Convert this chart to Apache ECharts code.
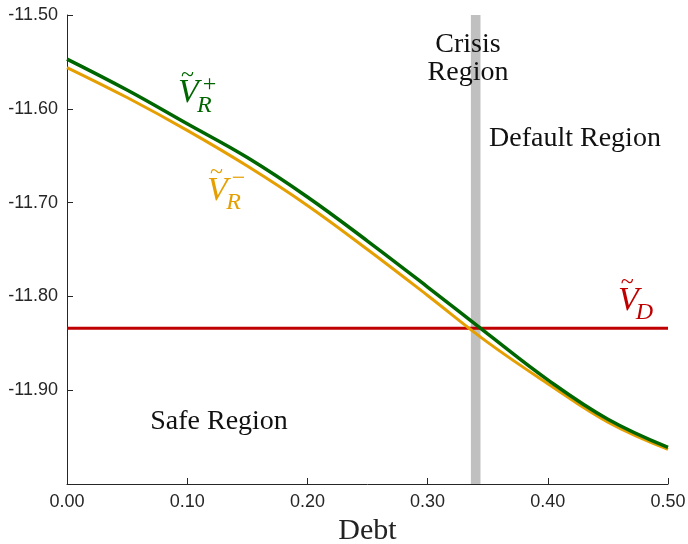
<!DOCTYPE html>
<html>
<head>
<meta charset="utf-8">
<script src="https://cdn.jsdelivr.net/npm/echarts@6/dist/echarts.min.js"></script>
<style>
html, body { margin: 0; padding: 0; background: #fff; }
#chart { width: 688px; height: 544px; }
</style>
</head>
<body>
<div id="chart"></div>
<script>
// debt grid and the two value functions
var debt = [0, 0.05, 0.10, 0.15, 0.20, 0.25, 0.30, 0.35, 0.40, 0.45, 0.50]
var vPlus = [-11.547, -11.580, -11.616, -11.652, -11.694, -11.741, -11.790, -11.840, -11.889, -11.931, -11.961]
var vMinus = [-11.556, -11.588, -11.623, -11.661, -11.703, -11.750, -11.799, -11.849, -11.893, -11.934, -11.963]
var vDefault = -11.834
var crisisBand = [0.336, 0.344]
var yTicks = [-11.5, -11.6, -11.7, -11.8, -11.9]

var serif = '"Liberation Serif", "Times New Roman", serif'
var sans = '"Liberation Sans", Arial, sans-serif'
var axisColor = '#262626'

var myChart = echarts.init(document.getElementById('chart'))

function pairs(xs, ys) {
	return xs.map(function (x, i) { return [x, ys[i]] })
}

var option = {
	animation: false,
	grid: { left: 67, right: 20, top: 15, bottom: 60, outerBoundsMode: 'none', containLabel: false },
	xAxis: {
		type: 'value',
		min: 0,
		max: 0.5,
		interval: 0.1,
		name: 'Debt',
		nameLocation: 'middle',
		nameGap: 30,
		nameTextStyle: { fontFamily: serif, fontSize: 30, color: '#222' },
		axisLine: { lineStyle: { color: axisColor, width: 1 } },
		axisTick: { inside: true, length: 6, lineStyle: { color: axisColor } },
		axisLabel: {
			margin: 9,
			fontFamily: sans,
			fontSize: 18,
			color: axisColor,
			formatter: function (v) { return v.toFixed(2) }
		},
		splitLine: { show: false }
	},
	yAxis: {
		type: 'value',
		min: -12.0,
		max: -11.5,
		interval: 0.1,
		axisLine: { show: true, lineStyle: { color: axisColor, width: 1 } },
		axisTick: { show: true, inside: true, length: 6, lineStyle: { color: axisColor } },
		axisLabel: {
			margin: 9,
			fontFamily: sans,
			fontSize: 18,
			color: axisColor,
			formatter: function (v) {
				return yTicks.some(function (t) { return Math.abs(t - v) < 1e-6 }) ? v.toFixed(2) : ''
			}
		},
		splitLine: { show: false }
	},
	series: [{
		name: 'V_D',
		type: 'line',
		z: 2,
		showSymbol: false,
		data: [[0, vDefault], [0.5, vDefault]],
		lineStyle: { color: '#c00000', width: 3 },
		markArea: {
			silent: true,
			itemStyle: { color: '#c0c0c0' },
			data: [[{ xAxis: crisisBand[0] }, { xAxis: crisisBand[1] }]]
		}
	}, {
		name: 'V_R-',
		type: 'line',
		z: 3,
		smooth: 0.4,
		showSymbol: false,
		data: pairs(debt, vMinus),
		lineStyle: { color: '#e69f00', width: 3 }
	}, {
		name: 'V_R+',
		type: 'line',
		z: 4,
		smooth: 0.4,
		showSymbol: false,
		data: pairs(debt, vPlus),
		lineStyle: { color: '#006600', width: 3.5 }
	}]
}
myChart.setOption(option)

// annotations anchored in data space
function txt(p, dx, dy, text, size, color, italic) {
	return {
		type: 'text',
		x: p[0] + dx,
		y: p[1] + dy,
		z: 100,
		silent: true,
		style: {
			text: text,
			fill: color,
			fontFamily: serif,
			fontSize: size,
			fontStyle: italic ? 'italic' : 'normal',
			align: 'center',
			verticalAlign: 'middle',
			lineHeight: 28
		}
	}
}

function mathLabel(at, sub, sup, color) {
	var p = myChart.convertToPixel('grid', at)
	var out = [
		txt(p, -1, -18, '~', 24, color, false),
		txt(p, 0, 0, 'V', 34, color, true),
		txt(p, 16, 12, sub, 24, color, true)
	]
	if (sup) out.push(txt(p, 21, sup === '+' ? -9 : -12, sup, 24, color, false))
	return out
}

var els = []
els = els.concat(mathLabel([0.1010, -11.5835], 'R', '+', '#006600'))
els = els.concat(mathLabel([0.1252, -11.6872], 'R', '\u2212', '#e69f00'))
els = els.concat(mathLabel([0.4670, -11.8048], 'D', null, '#c00000'))
els.push(txt(myChart.convertToPixel('grid', [0.3336, -11.5468]), 0, 0, 'Crisis\nRegion', 28, '#111', false))
els.push(txt(myChart.convertToPixel('grid', [0.4226, -11.6319]), 0, 0, 'Default Region', 28, '#111', false))
els.push(txt(myChart.convertToPixel('grid', [0.1265, -11.933]), 0, 0, 'Safe Region', 28, '#111', false))

myChart.setOption({ graphic: { elements: els } })
</script>
</body>
</html>
